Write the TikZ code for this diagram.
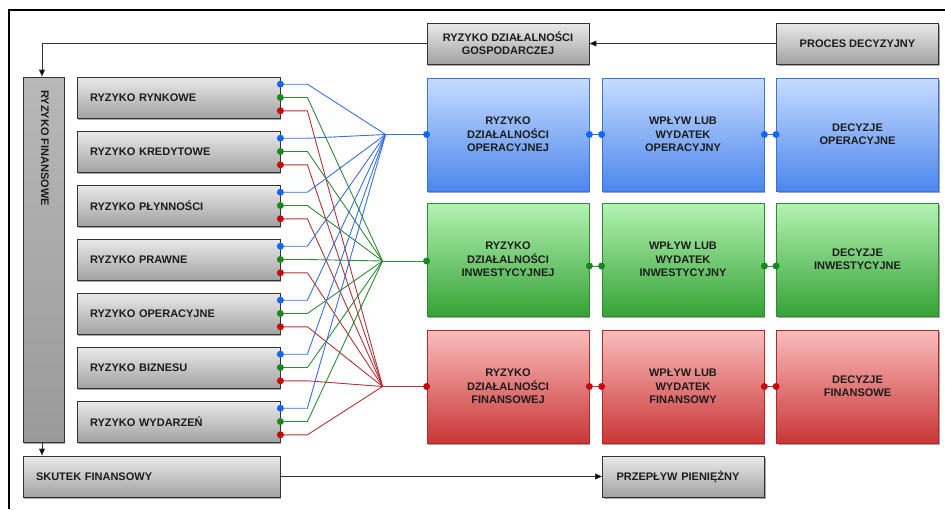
\documentclass[tikz,border=0pt]{standalone}
\usepackage{fontspec}
\setmainfont{Liberation Sans}
\newfontfamily\lblfont{Liberation Sans Bold}
\usetikzlibrary{shadows,arrows.meta,calc}

\definecolor{txt}{HTML}{1C1C1C}
\definecolor{edge}{HTML}{333333}
\definecolor{gtop}{HTML}{EAEAEA}
\definecolor{gbot}{HTML}{A2A2A2}
\definecolor{fintop}{HTML}{B8B8B8}
\definecolor{finbot}{HTML}{9A9A9A}
\definecolor{btop}{HTML}{C6DCFF}
\definecolor{bbot}{HTML}{4C86EC}
\definecolor{bedge}{HTML}{3B72D6}
\definecolor{ntop}{HTML}{B4F3B4}
\definecolor{nbot}{HTML}{36A236}
\definecolor{nedge}{HTML}{2D8C2D}
\definecolor{rtop}{HTML}{FBBDBD}
\definecolor{rbot}{HTML}{C93636}
\definecolor{redge}{HTML}{B02828}
\definecolor{lineB}{HTML}{3A6FE0}
\definecolor{lineG}{HTML}{2E8B36}
\definecolor{lineR}{HTML}{B43238}
\definecolor{dotB}{HTML}{1466F0}
\definecolor{dotG}{HTML}{17871F}
\definecolor{dotR}{HTML}{C40A0A}

\tikzset{
  shade/.style={drop shadow={shadow xshift=1.2pt,shadow yshift=-2pt,opacity=.35,fill=black}},
  graybox/.style={shade,draw=edge,line width=0.8pt,top color=gtop,bottom color=gbot,
    text=txt,inner sep=0pt},
  riskbox/.style={graybox,minimum width=203pt,minimum height=41pt,
    text width=177pt,inner xsep=13pt,align=left},
  headbox/.style={graybox,minimum width=162pt,minimum height=41pt,align=center},
  colbox/.style={shade,line width=0.8pt,minimum width=162pt,minimum height=113pt,
    align=center,text=txt,inner sep=0pt},
  bluebox/.style={colbox,draw=bedge,top color=btop,bottom color=bbot},
  greenbox/.style={colbox,draw=nedge,top color=ntop,bottom color=nbot},
  redbox/.style={colbox,draw=redge,top color=rtop,bottom color=rbot},
  flow/.style={draw=edge,line width=0.8pt,-{Triangle[length=7pt,width=6pt,fill=black]}},
  wireB/.style={draw=lineB,line width=0.9pt},
  wireG/.style={draw=lineG,line width=0.9pt},
  wireR/.style={draw=lineR,line width=0.9pt},
}

\begin{document}
\begin{tikzpicture}[x=1pt,y=-1pt,font=\lblfont\fontsize{11}{13.3}\selectfont]
\useasboundingbox (0,0) rectangle (945,509);

% outer frame
\draw[line width=1.4pt] (9,509) -- (9,10) -- (945,10);

% vertical financial-risk bar
\node[graybox,top color=fintop,bottom color=finbot,minimum width=41pt,minimum height=365pt] (fin) at (43.5,259.5) {};
\node[text=txt,rotate=-90,anchor=west,inner sep=0pt] (finlbl) at (45,90) {RYZYKO FINANSOWE};

% risk categories
\foreach \i/\t in {1/RYZYKO RYNKOWE,2/RYZYKO KREDYTOWE,3/RYZYKO PŁYNNOŚCI,4/RYZYKO PRAWNE,
                   5/RYZYKO OPERACYJNE,6/RYZYKO BIZNESU,7/RYZYKO WYDARZEŃ}{
  \node[riskbox] (r\i) at (178.5,{97.5+54*(\i-1)}) {\t};
}

% header row
\node[headbox] (gosp) at (508,43.5) {RYZYKO DZIAŁALNOŚCI\\GOSPODARCZEJ};
\node[headbox] (proc) at (857.5,43.5) {PROCES DECYZYJNY};

% activity grid
\node[bluebox]  (o1) at (508,134.5)   {RYZYKO\\DZIAŁALNOŚCI\\OPERACYJNEJ};
\node[bluebox]  (o2) at (683,134.5)   {WPŁYW LUB\\WYDATEK\\OPERACYJNY};
\node[bluebox]  (o3) at (857.5,134.5) {DECYZJE\\OPERACYJNE};
\node[greenbox] (n1) at (508,259.5)   {RYZYKO\\DZIAŁALNOŚCI\\INWESTYCYJNEJ};
\node[greenbox] (n2) at (683,259.5)   {WPŁYW LUB\\WYDATEK\\INWESTYCYJNY};
\node[greenbox] (n3) at (857.5,259.5) {DECYZJE\\INWESTYCYJNE};
\node[redbox]   (f1) at (508,386.5)   {RYZYKO\\DZIAŁALNOŚCI\\FINANSOWEJ};
\node[redbox]   (f2) at (683,386.5)   {WPŁYW LUB\\WYDATEK\\FINANSOWY};
\node[redbox]   (f3) at (857.5,386.5) {DECYZJE\\FINANSOWE};

% bottom row
\node[graybox,minimum width=257pt,minimum height=41pt,text width=231pt,inner xsep=13pt,align=left]
  (skut) at (151.5,476.5) {SKUTEK FINANSOWY};
\node[graybox,minimum width=162pt,minimum height=41pt,text width=134pt,inner xsep=14pt,align=left]
  (przep) at (683.5,476.5) {PRZEPŁYW PIENIĘŻNY};

% flow arrows
\coordinate (topbend) at (42,43.5);
\draw[flow] (proc.west) -- (gosp.east);
\draw[flow] (gosp.west) -- (topbend) -- (topbend |- fin.north);
\draw[flow] (fin.south -| topbend) -- (topbend |- skut.north);
\draw[flow] (skut.east) -- (przep.west);

% fan hubs
\coordinate (hubB) at ([xshift=-41pt]o1.west);
\coordinate (hubG) at ([xshift=-44pt,yshift=-1.5pt]n1.west);
\coordinate (hubR) at ([xshift=-44pt]f1.west);
\coordinate (n1in) at ([yshift=-1.5pt]n1.west);

% fan wires
\foreach \i in {1,...,7}{
  \coordinate (r\i-b) at ([yshift=13.3pt]r\i.east);
  \coordinate (r\i-g) at (r\i.east);
  \coordinate (r\i-r) at ([yshift=-13.3pt]r\i.east);
  \draw[wireB] (r\i-b) -- ++(27,0) -- (hubB);
  \draw[wireG] (r\i-g) -- ++(27,0) -- (hubG);
  \draw[wireR] (r\i-r) -- ++(27,0) -- (hubR);
}
\draw[wireB] (hubB) -- (o1.west);
\draw[wireG] (hubG) -- (n1in);
\draw[wireR] (hubR) -- (f1.west);

% links between grid columns
\coordinate (n1out) at ([yshift=-6.5pt]n1.east);
\coordinate (n2in)  at ([yshift=-6.5pt]n2.west);
\coordinate (n2out) at ([yshift=-6.5pt]n2.east);
\coordinate (n3in)  at ([yshift=-6.5pt]n3.west);
\draw[wireB] (o1.east) -- (o2.west) (o2.east) -- (o3.west);
\draw[wireG] (n1out) -- (n2in) (n2out) -- (n3in);
\draw[wireR] (f1.east) -- (f2.west) (f2.east) -- (f3.west);

% connection dots
\foreach \i in {1,...,7}{
  \fill[dotB] (r\i-b) circle (3.5pt);
  \fill[dotG] (r\i-g) circle (3.5pt);
  \fill[dotR] (r\i-r) circle (3.5pt);
}
\foreach \p in {o1.west,o1.east,o2.west,o2.east,o3.west}{\fill[dotB] (\p) circle (3.5pt);}
\foreach \p in {n1in,n1out,n2in,n2out,n3in}{\fill[dotG] (\p) circle (3.5pt);}
\foreach \p in {f1.west,f1.east,f2.west,f2.east,f3.west}{\fill[dotR] (\p) circle (3.5pt);}
\end{tikzpicture}
\end{document}
